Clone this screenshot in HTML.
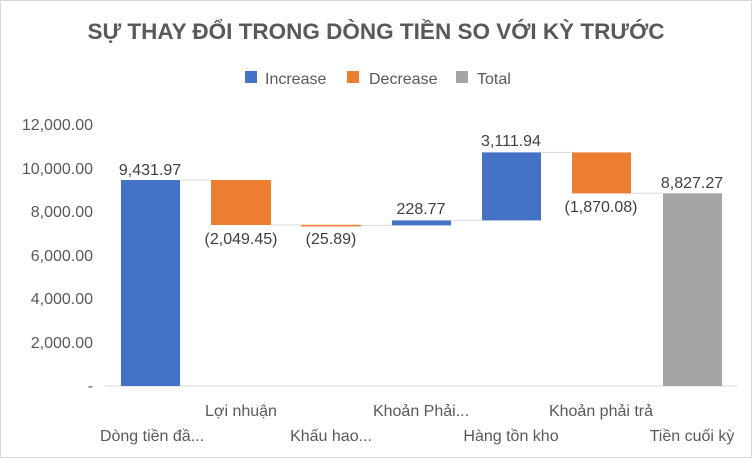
<!DOCTYPE html>
<html><head><meta charset="utf-8"><style>
body{margin:0;background:#fff;}
svg text{font-family:"Liberation Sans",sans-serif;}
</style></head><body>
<svg width="752" height="458" viewBox="0 0 752 458" xmlns="http://www.w3.org/2000/svg">
<rect x="0.5" y="0.5" width="751" height="457" fill="#fff" stroke="#d9d9d9"/>
<text x="376" y="39" text-anchor="middle" font-size="22.5" font-weight="bold" fill="#595959">SỰ THAY ĐỔI TRONG DÒNG TIỀN SO VỚI KỲ TRƯỚC</text>
<rect x="245" y="71" width="12" height="12" fill="#4472c4"/>
<text x="265" y="84" font-size="16" fill="#595959">Increase</text>
<rect x="347" y="71" width="12" height="12" fill="#ed7d31"/>
<text x="369" y="84" font-size="16" fill="#595959">Decrease</text>
<rect x="456" y="71" width="12" height="12" fill="#a5a5a5"/>
<text x="477" y="84" font-size="16" fill="#595959">Total</text>
<g font-size="16" fill="#595959" text-anchor="end">
<text x="93" y="130">12,000.00</text>
<text x="93" y="174">10,000.00</text>
<text x="93" y="217">8,000.00</text>
<text x="93" y="261">6,000.00</text>
<text x="93" y="304">4,000.00</text>
<text x="93" y="348">2,000.00</text>
<text x="93" y="391">-</text>
</g>
<line x1="105" y1="386" x2="738" y2="386" stroke="#d9d9d9"/>
<g stroke="#d9d9d9" stroke-width="1">
<line x1="180" y1="180" x2="211" y2="180"/>
<line x1="271" y1="225" x2="301" y2="225"/>
<line x1="361" y1="225.4" x2="392" y2="225.4"/>
<line x1="451" y1="220.4" x2="482" y2="220.4"/>
<line x1="541" y1="152.4" x2="572" y2="152.4"/>
<line x1="631" y1="193.3" x2="663" y2="193.3"/>
</g>
<rect x="121" y="180" width="59" height="206" fill="#4472c4"/>
<rect x="211" y="180" width="60" height="45" fill="#ed7d31"/>
<rect x="301" y="224.8" width="60" height="1.6" fill="#ed7d31"/>
<rect x="392" y="220.4" width="59" height="5" fill="#4472c4"/>
<rect x="482" y="152.4" width="59" height="68" fill="#4472c4"/>
<rect x="572" y="152.4" width="59" height="41" fill="#ed7d31"/>
<rect x="663" y="193.3" width="59" height="192.7" fill="#a5a5a5"/>
<g font-size="16" fill="#404040" text-anchor="middle">
<text x="150" y="175">9,431.97</text>
<text x="241" y="244">(2,049.45)</text>
<text x="331" y="244">(25.89)</text>
<text x="421" y="214">228.77</text>
<text x="511" y="146">3,111.94</text>
<text x="601" y="212">(1,870.08)</text>
<text x="692" y="188">8,827.27</text>
</g>
<g font-size="16" fill="#595959" text-anchor="middle">
<text x="152" y="441">Dòng tiền đầ...</text>
<text x="241" y="416">Lợi nhuận</text>
<text x="331" y="441">Khấu hao...</text>
<text x="421" y="416">Khoản Phải...</text>
<text x="511" y="441">Hàng tồn kho</text>
<text x="601" y="416">Khoản phải trả</text>
<text x="692" y="441">Tiền cuối kỳ</text>
</g>
</svg>
</body></html>
